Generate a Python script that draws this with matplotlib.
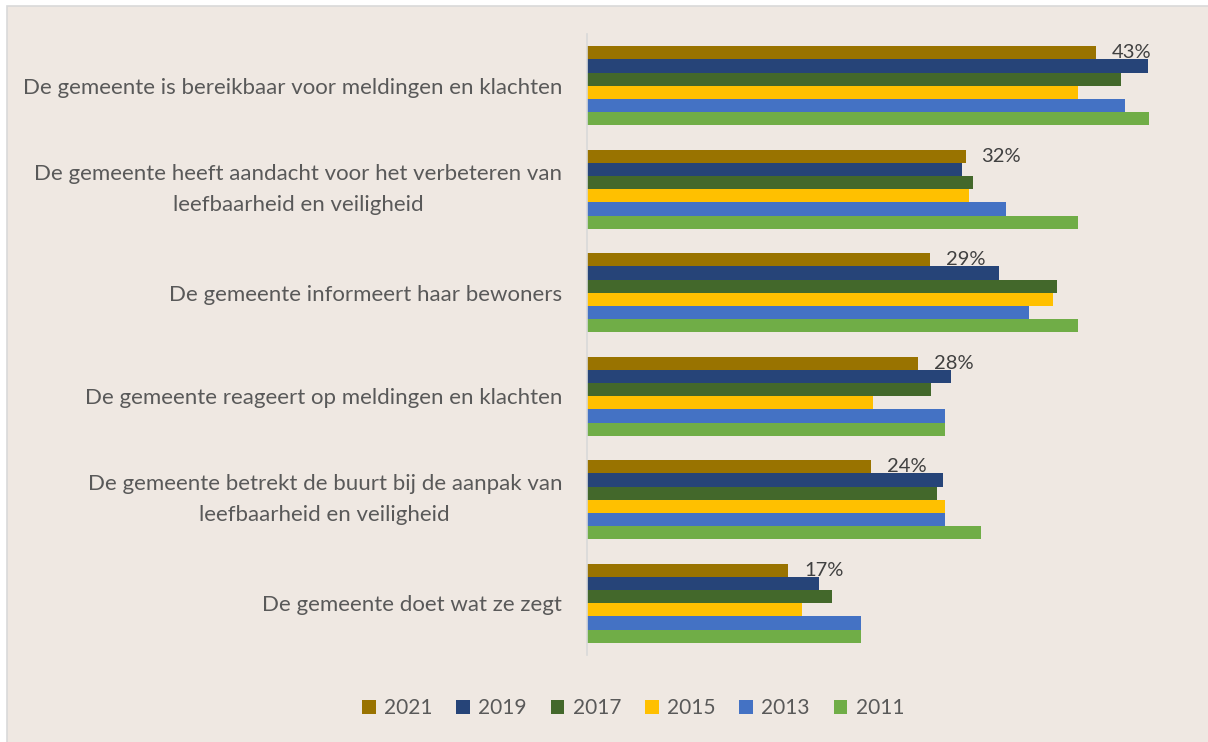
import matplotlib
matplotlib.use("Agg")
import matplotlib.pyplot as plt
from matplotlib.patches import Rectangle
import numpy as np

plt.rcParams['font.family'] = ['Lato', 'DejaVu Sans']

categories = [
    "De gemeente is bereikbaar voor meldingen en klachten",
    "De gemeente heeft aandacht voor het verbeteren van\nleefbaarheid en veiligheid",
    "De gemeente informeert haar bewoners",
    "De gemeente reageert op meldingen en klachten",
    "De gemeente betrekt de buurt bij de aanpak van\nleefbaarheid en veiligheid",
    "De gemeente doet wat ze zegt",
]
years = ["2021", "2019", "2017", "2015", "2013", "2011"]
colors = ["#997300", "#264478", "#43682B", "#FFC000", "#4472C4", "#70AD47"]

v2021 = [43, 32, 29, 28, 24, 17]
v2019 = [47.4, 31.7, 34.8, 30.8, 30.1, 19.6]
v2017 = [45.1, 32.6, 39.7, 29.1, 29.6, 20.7]
v2015 = [41.5, 32.3, 39.4, 24.2, 30.3, 18.2]
v2013 = [45.5, 35.4, 37.4, 30.3, 30.3, 23.2]
v2011 = [47.5, 41.5, 41.5, 30.3, 33.3, 23.2]
series = [v2021, v2019, v2017, v2015, v2013, v2011]

W, H = 1208, 742
fig = plt.figure(figsize=(W / 100, H / 100), dpi=100, facecolor="white")

# chart area panel
fig.patches.append(Rectangle((6.5 / W, -0.01), 1.1, (H - 5.5) / H + 0.01,
                             transform=fig.transFigure, facecolor="#EFE8E2",
                             edgecolor="#D9D9D9", linewidth=1.2, zorder=-5))

ax = fig.add_axes([587 / W, (H - 655) / H, 591.5 / W, 621 / H])
ax.set_zorder(2)
ax.set_facecolor("none")

n = len(series)
h = 0.128
pos = np.arange(len(categories))
for j, (vals, col, yr) in enumerate(zip(series, colors, years)):
    y = pos - n * h / 2 + (j + 0.5) * h
    ax.barh(y, vals, height=h, color=col, label=yr, linewidth=0)
    if j == 0:
        for yy, v in zip(y, vals):
            ax.annotate(f"{v:.0f}%", (v, yy), xytext=(11.5, 0),
                        textcoords="offset points", ha="left", va="center",
                        fontsize=14.5, color="#404040")

ax.set_xlim(0, 50)
ax.set_ylim(len(categories) - 0.5, -0.5)
ax.set_yticks(pos)
ax.set_yticklabels(categories, fontsize=16, color="#595959",
                   multialignment="center", linespacing=1.7)
for lbl, txt in zip(ax.get_yticklabels(), categories):
    if "\n" in txt:
        lbl.set_verticalalignment("center")
ax.tick_params(axis="y", length=0, pad=18)
ax.set_xticks([])
for s in ["top", "right", "bottom"]:
    ax.spines[s].set_visible(False)
ax.spines["left"].set_color("#D9D9D9")
ax.spines["left"].set_linewidth(1.2)

handles, labels = ax.get_legend_handles_labels()
leg = fig.legend(handles, labels, loc="center", ncol=6,
                 bbox_to_anchor=(633 / W, (H - 708) / H), frameon=False,
                 fontsize=15, handlelength=0.65, handleheight=0.65,
                 handletextpad=0.4, columnspacing=1.15)
leg.set_zorder(3)
for t in leg.get_texts():
    t.set_color("#595959")

fig.savefig("out.png", dpi=100, facecolor="white")
